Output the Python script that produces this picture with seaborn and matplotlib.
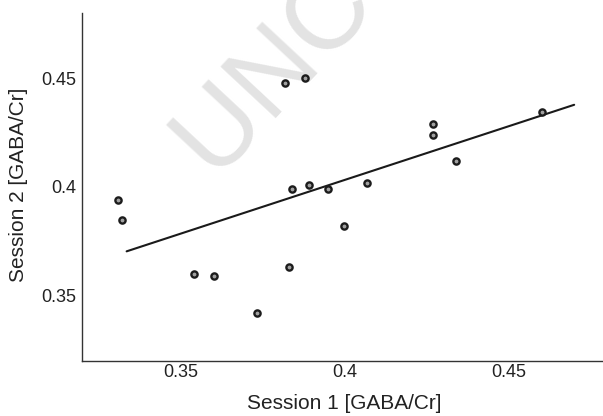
import matplotlib
matplotlib.use("Agg")
import matplotlib.pyplot as plt
import seaborn as sns
import pandas as pd

# Data
session1 = [0.3311, 0.3322, 0.3541, 0.3602, 0.3732, 0.3820, 0.3881, 0.3830,
            0.3841, 0.3891, 0.3951, 0.4000, 0.4069, 0.4269, 0.4269, 0.4340,
            0.4601]
session2 = [0.3940, 0.3850, 0.3600, 0.3589, 0.3420, 0.4479, 0.4500, 0.3631,
            0.3989, 0.4009, 0.3989, 0.3820, 0.4020, 0.4290, 0.4240, 0.4119,
            0.4342]
fit_x = [0.3336, 0.4700]
fit_y = [0.3704, 0.4377]
xticks = [0.35, 0.40, 0.45]
xticklabels = ["0.35", "0.4", "0.45"]
yticks = [0.35, 0.40, 0.45]
yticklabels = ["0.35", "0.4", "0.45"]
xlabel = "Session 1 [GABA/Cr]"
ylabel = "Session 2 [GABA/Cr]"
watermark = "UNCORRECTED PROOF"

df = pd.DataFrame({"s1": session1, "s2": session2})
fit = pd.DataFrame({"x": fit_x, "y": fit_y})

sns.set_theme(style="white")
plt.rcParams["font.family"] = ["Liberation Sans", "DejaVu Sans"]

fig = plt.figure(figsize=(6.03, 4.16), dpi=100)
ax = fig.add_axes([0.136, 0.132, 0.8706, 0.8375])

ax.text(0.358, 0.5625, watermark, transform=fig.transFigure, rotation=47,
        rotation_mode="anchor", ha="left", va="baseline", fontsize=79,
        color="#e3e3e3", zorder=0, clip_on=False)

sns.lineplot(data=fit, x="x", y="y", ax=ax, color="#1a1a1a", linewidth=1.5,
             zorder=2)
sns.scatterplot(data=df, x="s1", y="s2", ax=ax, marker="o", s=20,
                facecolor="#a0a0a0", edgecolor="#1c1c1c", linewidth=1.7,
                zorder=3)

ax.set_xlim(0.32, 0.48)
ax.set_ylim(0.32, 0.48)
ax.set_xticks(xticks)
ax.set_xticklabels(xticklabels)
ax.set_yticks(yticks)
ax.set_yticklabels(yticklabels)

for side in ["top", "right"]:
    ax.spines[side].set_visible(False)
for side in ["left", "bottom"]:
    ax.spines[side].set_color("#333333")
    ax.spines[side].set_linewidth(1.0)

ax.tick_params(axis="both", direction="in", length=4, width=0.8,
               colors="#333333", labelcolor="#222222", labelsize=13)
ax.tick_params(axis="x", pad=2)
ax.tick_params(axis="y", pad=4.5)

ax.set_xlabel(xlabel, fontsize=15, color="#222222")
ax.set_ylabel(ylabel, fontsize=15, color="#222222")
ax.xaxis.set_label_coords(0.5, -0.095)
ax.yaxis.set_label_coords(-0.103, 0.505)
ax.set_facecolor("white")

fig.savefig("out.png", dpi=100)
